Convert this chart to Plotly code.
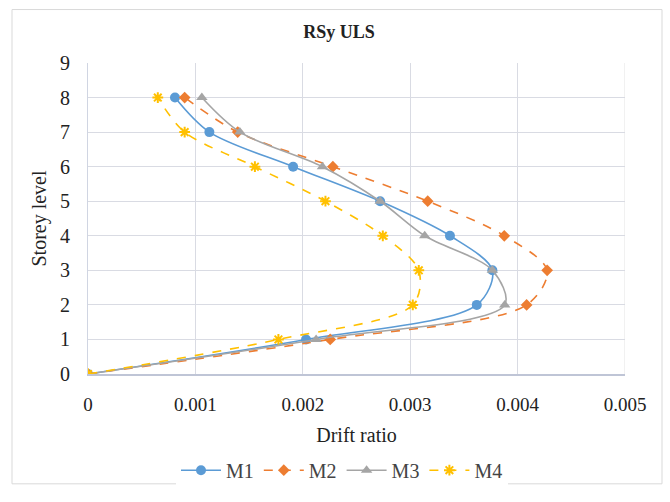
import plotly.graph_objects as go

levels = [0, 1, 2, 3, 4, 5, 6, 7, 8]
m1 = [0, 0.00203, 0.00362, 0.003765, 0.00337, 0.00272, 0.00191, 0.00113, 0.00081]
m2 = [0, 0.002255, 0.004084, 0.004275, 0.003876, 0.003163, 0.00228, 0.001394, 0.0009]
m3 = [0, 0.002124, 0.00388, 0.003765, 0.003135, 0.00272, 0.002183, 0.001414, 0.00106]
m4 = [0, 0.001773, 0.003024, 0.00308, 0.002745, 0.002211, 0.001554, 0.0009, 0.00065]
x_ticks = [0, 0.001, 0.002, 0.003, 0.004, 0.005]
x_tick_labels = ["0", "0.001", "0.002", "0.003", "0.004", "0.005"]
y_ticks = list(range(0, 10))

FONT = "Liberation Serif"
TXT = "#222222"

series = [
    ("M1", m1, "#5B9BD5", "solid", "circle", 10),
    ("M2", m2, "#ED7D31", "dash", "diamond", 9),
    ("M3", m3, "#A5A5A5", "solid", "triangle-up", 10),
    ("M4", m4, "#FFC000", "dash", "asterisk-open", 9),
]

fig = go.Figure()
for name, xs, color, dash, sym, size in series:
    marker = dict(symbol=sym, size=size, color=color)
    if sym == "asterisk-open":
        marker["line"] = dict(color=color, width=2)
    fig.add_trace(go.Scatter(
        x=xs, y=levels, name=name, mode="lines+markers",
        line=dict(color=color, width=1.6, dash=dash, shape="spline", smoothing=0.9),
        marker=marker,
    ))

L, R, T, B = 88, 45, 63, 119
PW, PH = 670 - L - R, 502 - T - B

fig.update_layout(
    width=670, height=502,
    paper_bgcolor="white", plot_bgcolor="white",
    margin=dict(l=L, r=R, t=T, b=B),
    font=dict(family=FONT, size=18, color=TXT),
    title=dict(text="<b>RSy ULS</b>", x=339/670, xanchor="center", y=1 - 32/502, yanchor="middle",
               font=dict(family=FONT, size=18, color=TXT)),
    showlegend=True,
    legend=dict(orientation="h", x=(342 - L)/PW, xanchor="center", y=(383 - 482)/PH, yanchor="middle",
                font=dict(family=FONT, size=20, color="#444444"), itemwidth=40),
    xaxis=dict(
        range=[0, 0.005], tickvals=x_ticks, ticktext=x_tick_labels,
        showgrid=True, gridcolor="#D9DBE3", gridwidth=1,
        showline=True, linecolor="#BFC5D6", linewidth=2, zeroline=False,
        ticks="", ticklabelstandoff=12,
        tickfont=dict(family=FONT, size=19, color=TXT),
        title=dict(text="Drift ratio", font=dict(family=FONT, size=20, color=TXT), standoff=14),
    ),
    yaxis=dict(
        range=[0, 9], tickvals=y_ticks,
        showgrid=True, gridcolor="#D9DBE3", gridwidth=1,
        showline=True, linecolor="#D0D5E2", linewidth=1, zeroline=False,
        ticks="", ticklabelstandoff=13,
        tickfont=dict(family=FONT, size=20, color=TXT),
        title=dict(text="Storey level", font=dict(family=FONT, size=20, color=TXT), standoff=8),
    ),
)
# right border of plot area (light)
fig.add_shape(type="line", xref="x", yref="y", x0=0.005, x1=0.005, y0=0, y1=9,
              line=dict(color="#E3E3E3", width=1), layer="below")
# chart area border
fig.add_shape(type="rect", xref="paper", yref="paper",
              x0=(12 - L)/PW, x1=(662 - L)/PW, y0=-(496 - 383)/PH, y1=1 + (T - 8)/PH,
              line=dict(color="#D9D9D9", width=1), layer="below")

fig.write_html("out.html")
